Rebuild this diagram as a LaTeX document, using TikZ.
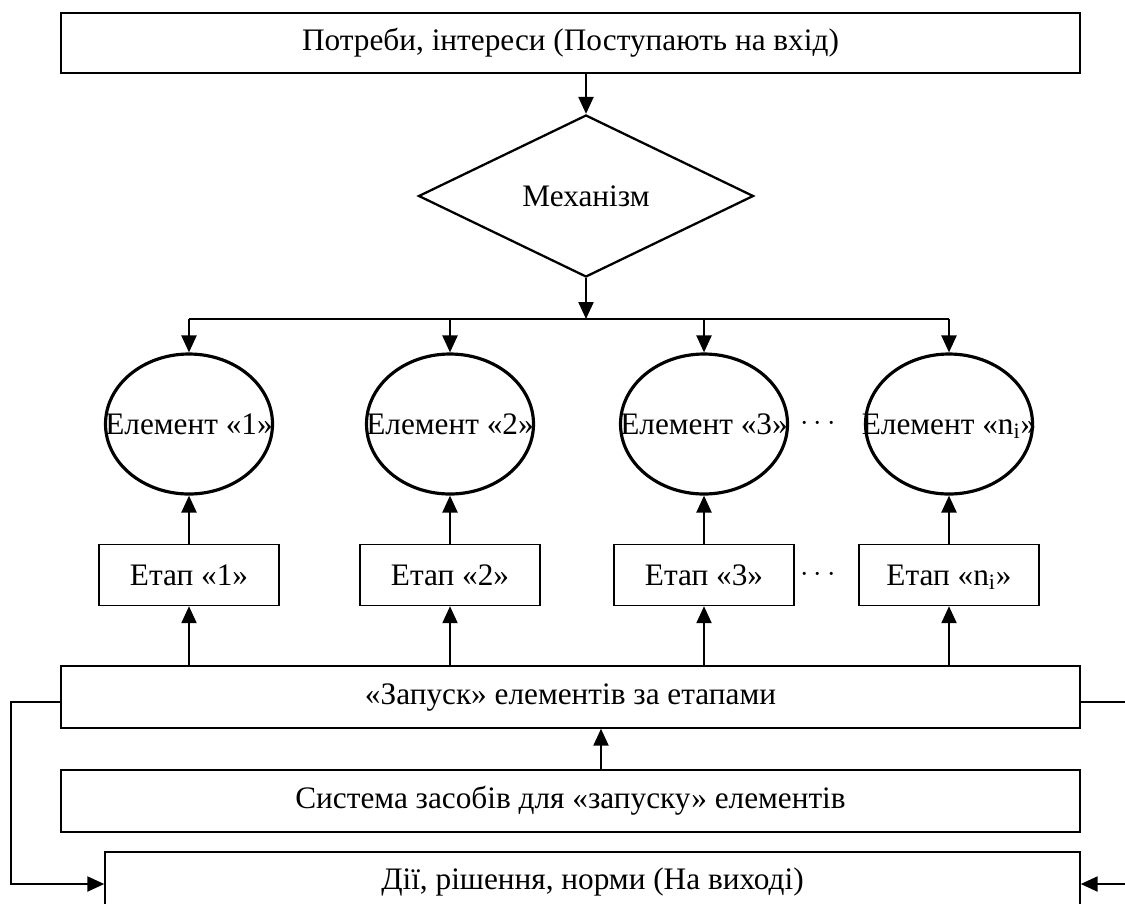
\documentclass[tikz,border=0pt]{standalone}
\usepackage{fontspec}
\setmainfont{Liberation Serif}
\usetikzlibrary{shapes.geometric,arrows.meta}

\begin{document}
\begin{tikzpicture}[
  box/.style={draw,line width=0.8pt,minimum height=1.2cm,inner sep=0pt},
  elem/.style={draw,ellipse,line width=1.8pt,minimum width=3.34cm,minimum height=2.8cm,inner sep=0pt},
  stage/.style={draw,line width=0.8pt,minimum width=3.6cm,minimum height=1.22cm,inner sep=0pt},
  arr/.style={line width=1.3pt,-{Triangle[length=0.34cm,width=0.3cm]}},
  font=\fontsize{17.8}{21}\selectfont]
\useasboundingbox (0,0) rectangle (22.5,-18.06);
\node[box,minimum width=20.38cm] (in) at (11.41,-0.86) {Потреби, інтереси (Поступають на вхід)};
\node[draw,diamond,line width=1.3pt,minimum width=6.7cm,minimum height=3.24cm,inner sep=0pt] (mech) at (11.72,-3.92) {Механізм};
\draw[arr] (in.south -| mech) -- (mech.north);
\coordinate (bus) at (11.72,-6.38);
\draw[arr] (mech.south) -- (bus);
% elements
\node[elem] (e1) at (3.78,-8.48) {\makebox[0pt]{Елемент «1»}};
\node[elem] (e2) at (9.0,-8.48) {\makebox[0pt]{Елемент «2»}};
\node[elem] (e3) at (14.08,-8.48) {\makebox[0pt]{Елемент «3»}};
\node[elem] (e4) at (18.98,-8.48) {\makebox[0pt]{Елемент «n\smash{\textsubscript{i}}»}};
\node (d1) at (16.36,-8.48) {$\cdots$};
\draw[line width=1.3pt] (e1.north |- bus) -- (e4.north |- bus);
% stages
\node[stage] (s1) at (3.78,-11.5) {Етап «1»};
\node[stage] (s2) at (9.0,-11.5) {Етап «2»};
\node[stage] (s3) at (14.08,-11.5) {Етап «3»};
\node[stage] (s4) at (18.98,-11.5) {Етап «n\smash{\textsubscript{i}}»};
\node (d2) at (16.36,-11.5) {$\cdots$};
\node[box,minimum width=20.38cm,minimum height=1.24cm] (run) at (11.41,-13.94) {«Запуск» елементів за етапами};
\foreach \n in {1,...,4}{
  \draw[arr] (e\n.north |- bus) -- (e\n.north);
  \draw[arr] (s\n.north) -- (e\n.south);
  \draw[arr] (run.north -| s\n) -- (s\n.south);
}
\node[box,minimum width=20.38cm,minimum height=1.24cm] (tools) at (11.41,-16.02) {Система засобів для «запуску» елементів};
\draw[arr] ([xshift=0.61cm]tools.north) -- ([xshift=0.61cm]run.south);
\node[box,minimum width=19.5cm] (out) at (11.85,-17.64) {Дії, рішення, норми (На виході)};
% feedback
\coordinate (r1) at (22.5,-14.04);
\coordinate (r2) at (22.5,-17.68);
\draw[arr] ([yshift=-0.1cm]run.west) -- ++(-0.98,0) |- ([yshift=-0.04cm]out.west);
\draw[line width=1.3pt] (run.east |- r1) -- (r1);
\draw[arr] (r2) -- (out.east |- r2);
\end{tikzpicture}
\end{document}
